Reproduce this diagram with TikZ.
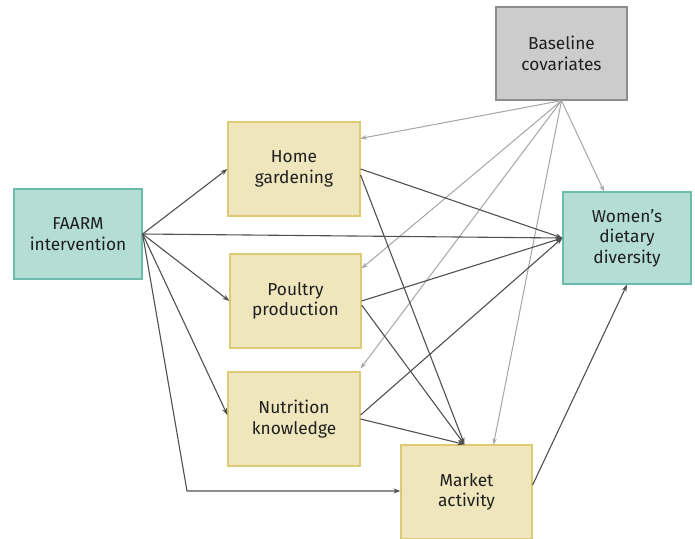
\documentclass[tikz,border=0pt]{standalone}
\usepackage{fontspec}
\setmainfont{Fira Sans}
\usetikzlibrary{arrows.meta,calc}
\definecolor{tealfill}{HTML}{B3DDD5}
\definecolor{tealedge}{HTML}{6CBCAE}
\definecolor{yelfill}{HTML}{EFE6BD}
\definecolor{yeledge}{HTML}{DCCB72}
\definecolor{grayfill}{HTML}{CCCCCC}
\definecolor{grayedge}{HTML}{8C8C8C}
\definecolor{darkline}{HTML}{505050}
\definecolor{lightline}{HTML}{A5A5A5}
\tikzset{
  box/.style={draw, line width=1.2pt, align=center, font=\fontsize{17.3}{20.5}\selectfont, text=black!88},
  tealbox/.style={box, fill=tealfill, draw=tealedge},
  yelbox/.style={box, fill=yelfill, draw=yeledge},
  graybox/.style={box, fill=grayfill, draw=grayedge},
  darkarr/.style={draw=darkline, line width=1.1pt, -{Stealth[length=7pt,width=5pt]}},
  lightarr/.style={draw=lightline, line width=1pt, -{Stealth[length=6pt,width=4.5pt]}}
}
\begin{document}
\begin{tikzpicture}[x=1pt,y=-1pt]
\useasboundingbox (0,0) rectangle (695,538);
\begin{scope}
\clip (0,0) rectangle (695,538);
\node[tealbox, minimum width=128pt, minimum height=90pt] (faarm) at (78,234) {FAARM\\intervention};
\node[graybox, minimum width=131pt, minimum height=93pt] (base) at (561.5,53.5) {Baseline\\covariates};
\node[yelbox, minimum width=132pt, minimum height=94pt] (home) at (294,169) {Home\\gardening};
\node[yelbox, minimum width=131pt, minimum height=94pt] (poul) at (295.5,301) {Poultry\\production};
\node[yelbox, minimum width=132pt, minimum height=94pt] (nutr) at (294,419) {Nutrition\\knowledge};
\node[yelbox, minimum width=131pt, minimum height=94pt] (mark) at (466.5,492) {Market\\activity};
\node[tealbox, minimum width=128pt, minimum height=92pt] (women) at (627,238) {Women’s\\dietary\\diversity};
\end{scope}
% baseline covariates arrows
\draw[lightarr] (base.south) -- ([yshift=-17pt]home.north east);
\draw[lightarr] (base.south) -- ([yshift=-15pt]poul.north east);
\draw[lightarr] (base.south) -- ([yshift=3pt]nutr.north east);
\draw[lightarr] (base.south) -- ([xshift=27pt]mark.north);
\draw[lightarr] (base.south) -- ([xshift=-23pt]women.north);
% FAARM arrows
\draw[darkarr] (faarm.east) -- (home.west);
\draw[darkarr] (faarm.east) -- (women.west);
\draw[darkarr] (faarm.east) -- (poul.west);
\draw[darkarr] (faarm.east) -- ([yshift=4pt]nutr.west);
\coordinate (bend) at (187,491);
\draw[darkarr] (faarm.east) -- (bend) -- (bend -| mark.west);
% mediators
\draw[darkarr] (home.east) -- (women.west);
\draw[darkarr] ([yshift=-6pt]home.east) -- ([xshift=-2pt]mark.north);
\draw[darkarr] (poul.east) -- (women.west);
\draw[darkarr] ([yshift=-4pt]poul.east) -- ([xshift=-2pt]mark.north);
\draw[darkarr] ([yshift=4pt]nutr.east) -- (women.west);
\draw[darkarr] (nutr.east) -- ([xshift=-2pt]mark.north);
\draw[darkarr] ([yshift=7pt]mark.east) -- (women.south);
\end{tikzpicture}
\end{document}
